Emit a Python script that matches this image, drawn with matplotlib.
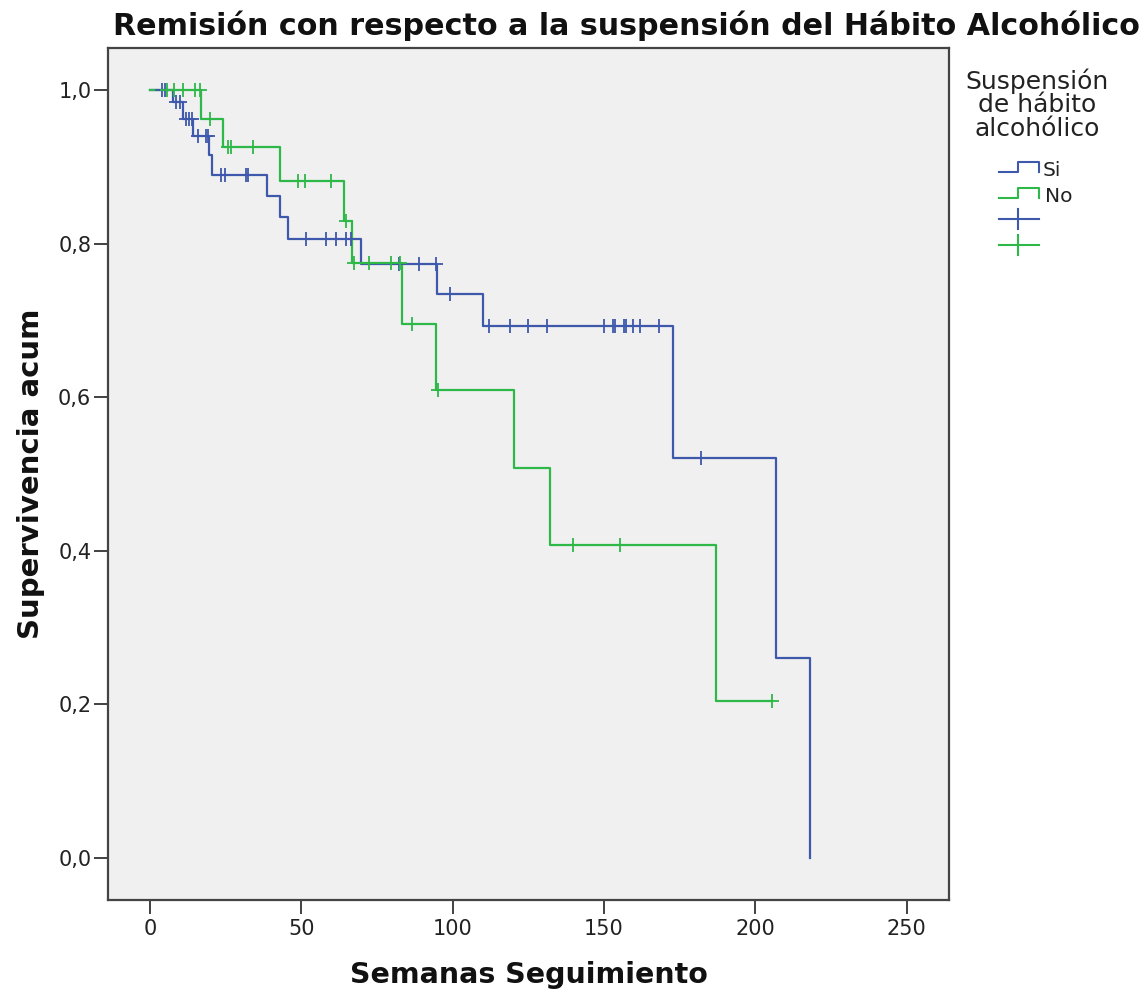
import numpy as np
import matplotlib
matplotlib.use("Agg")
import matplotlib.pyplot as plt
from matplotlib.lines import Line2D

# ---------------- data ----------------
groups = ["Si", "No"]
legend_title = "Suspensión\nde hábito\nalcohólico"

# group "Si": event times and survival after each event
si_event_times = [7.5, 11.0, 14.3, 19.6, 20.4, 38.7, 42.8, 45.7, 69.6, 94.7, 109.9, 172.8, 206.9, 218.0]
si_event_surv = [0.985, 0.963, 0.940, 0.915, 0.889, 0.862, 0.835, 0.806, 0.773, 0.735, 0.693, 0.521, 0.260, 0.0]
si_censor_times = [4.0, 5.0, 8.5, 10.0, 12.0, 13.0, 14.0, 16.0, 18.5, 19.2, 23.6, 24.7, 31.8, 32.5,
                   51.5, 58.3, 61.6, 64.7, 66.3, 82.2, 89.0, 94.5, 99.2, 112.1, 119.0, 125.0, 131.0,
                   150.0, 153.0, 153.7, 156.6, 157.2, 159.5, 162.0, 168.3, 182.2]
si_end_time = 218.0

# group "No"
no_event_times = [16.8, 24.1, 42.8, 64.1, 66.7, 83.3, 94.5, 120.4, 132.3, 186.9]
no_event_surv = [0.963, 0.926, 0.882, 0.829, 0.775, 0.696, 0.609, 0.508, 0.407, 0.204]
no_censor_times = [5.5, 8.0, 11.0, 14.8, 16.4, 19.7, 25.8, 26.9, 34.0, 48.8, 51.2, 59.8, 64.7,
                   67.4, 72.4, 79.6, 82.5, 86.6, 95.2, 139.9, 155.3, 205.6]
no_end_time = 205.6

x_ticks = [0, 50, 100, 150, 200, 250]
y_ticks = [0.0, 0.2, 0.4, 0.6, 0.8, 1.0]
y_tick_labels = ["0,0", "0,2", "0,4", "0,6", "0,8", "1,0"]

colors = {"Si": "#3E58AC", "No": "#2EB848"}

W, H = 1148, 993
fig = plt.figure(figsize=(W / 100, H / 100), dpi=100)
fig.patch.set_facecolor("white")

def fx(px):
    return px / W

def fy(py):
    return 1 - py / H

ax = fig.add_axes([fx(108), fy(900), fx(949) - fx(108), fy(48) - fy(900)])
ax.set_facecolor("#F0F0F0")


def km_curve(ev_t, ev_s, end_t):
    t = np.concatenate([[0.0], np.asarray(ev_t, float)])
    s = np.concatenate([[1.0], np.asarray(ev_s, float)])
    if end_t > t[-1]:
        t = np.append(t, end_t)
        s = np.append(s, s[-1])
    return t, s


def surv_at(ev_t, ev_s, times):
    t = np.concatenate([[0.0], np.asarray(ev_t, float)])
    s = np.concatenate([[1.0], np.asarray(ev_s, float)])
    idx = np.searchsorted(t, np.asarray(times, float), side="right") - 1
    return s[idx]


series = {
    "Si": (si_event_times, si_event_surv, si_censor_times, si_end_time),
    "No": (no_event_times, no_event_surv, no_censor_times, no_end_time),
}

for g in groups:
    ev_t, ev_s, c_t, end_t = series[g]
    t, s = km_curve(ev_t, ev_s, end_t)
    ax.step(t, s, where="post", color=colors[g], lw=1.6, zorder=3)
    ax.plot(c_t, surv_at(ev_t, ev_s, c_t), linestyle="none", marker="+",
            markersize=10, markeredgewidth=1.3, color=colors[g], zorder=4)

ax.set_xlim(-13.9, 264)
ax.set_ylim(-0.055, 1.055)
ax.set_xticks(x_ticks)
ax.set_xticklabels([str(v) for v in x_ticks])
ax.set_yticks(y_ticks)
ax.set_yticklabels(y_tick_labels)
ax.tick_params(axis="both", direction="out", length=10, width=1.3, color="#333333",
               labelsize=15, labelcolor="#222222")
ax.tick_params(axis="x", pad=4)
ax.tick_params(axis="y", pad=2)
for sp in ax.spines.values():
    sp.set_color("#444444")
    sp.set_linewidth(1.6)

ax.set_xlabel("Semanas Seguimiento", fontsize=20.5, fontweight="bold", color="#111111")
ax.xaxis.set_label_coords(0.5, -0.072)
ax.set_ylabel("Supervivencia acum", fontsize=21, fontweight="bold", color="#111111")
ax.yaxis.set_label_coords((45 - 108) / 841, 0.5)

fig.text(fx(626), fy(35), "Remisión con respecto a la suspensión del Hábito Alcohólico",
         fontsize=21.7, fontweight="bold", ha="center", va="baseline", color="#111111")

# legend
fig.text(fx(1037), fy(68), legend_title, fontsize=18, ha="center", va="top",
         linespacing=1.0, color="#222222")

def step_handle(y_low, y_high, color):
    xs = [999, 1018, 1018, 1039, 1039]
    ys = [y_low, y_low, y_high, y_high, y_low]
    fig.add_artist(Line2D([fx(v) for v in xs], [fy(v) for v in ys], color=color, lw=1.5))

def plus_handle(yc, color):
    fig.add_artist(Line2D([fx(999), fx(1039)], [fy(yc), fy(yc)], color=color, lw=1.5))
    fig.add_artist(Line2D([fx(1018), fx(1018)], [fy(yc - 10), fy(yc + 10)], color=color, lw=1.5))

step_handle(172, 162, colors["Si"])
fig.text(fx(1043), fy(176), "Si", fontsize=14.5, ha="left", va="baseline", color="#222222")
step_handle(198, 188, colors["No"])
fig.text(fx(1045), fy(202.5), "No", fontsize=14.5, ha="left", va="baseline", color="#222222")
plus_handle(219, colors["Si"])
plus_handle(245, colors["No"])

fig.savefig("out.png", dpi=100, facecolor="white")
